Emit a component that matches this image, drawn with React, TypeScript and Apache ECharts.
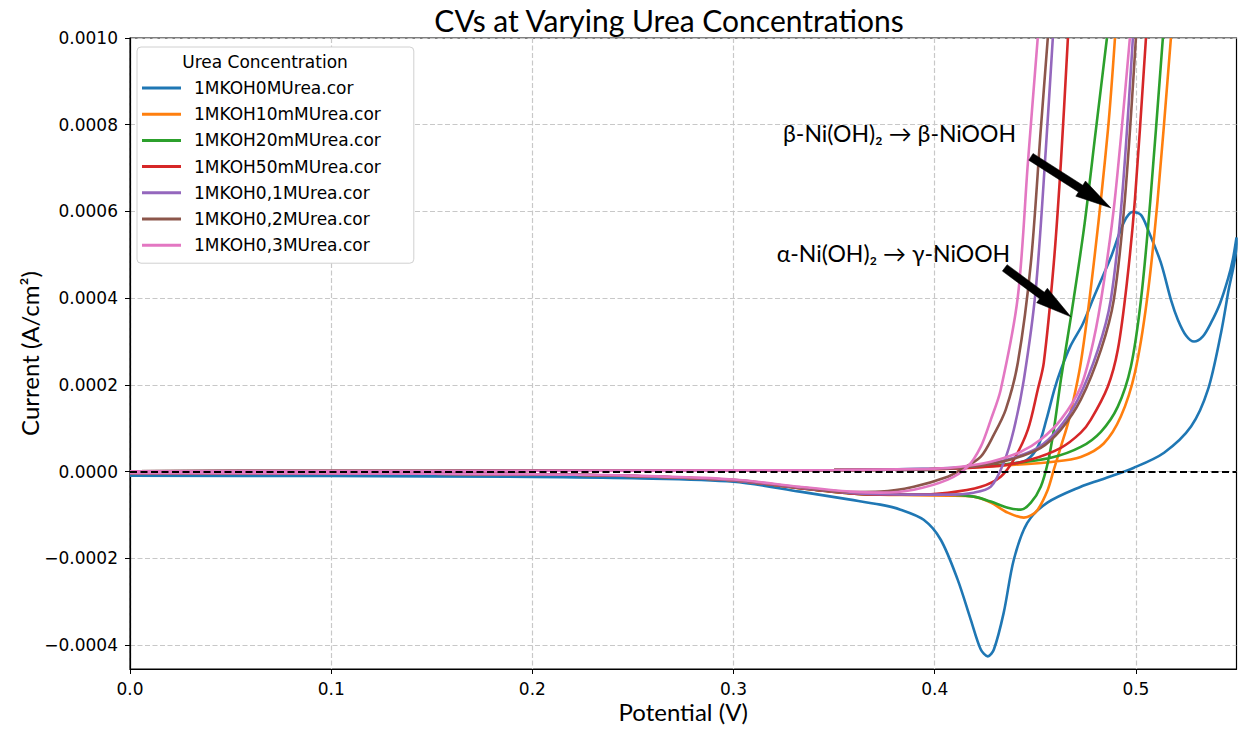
import React, { useEffect, useRef } from "react";
import * as echarts from "echarts";

type Pt = [number, number];

const seriesNames = [
  "1MKOH0MUrea.cor",
  "1MKOH10mMUrea.cor",
  "1MKOH20mMUrea.cor",
  "1MKOH50mMUrea.cor",
  "1MKOH0,1MUrea.cor",
  "1MKOH0,2MUrea.cor",
  "1MKOH0,3MUrea.cor",
];
const seriesColors = ["#1f77b4", "#ff7f0e", "#2ca02c", "#d62728", "#9467bd", "#8c564b", "#e377c2"];

const xTicks = [0, 0.1, 0.2, 0.3, 0.4, 0.5];
const yTicks = [-0.0004, -0.0002, 0, 0.0002, 0.0004, 0.0006, 0.0008, 0.001];

// ---- 1M KOH, 0 M urea (blue) ----
const blueForward: Pt[] = [
  [0, 0.000001], [0.1, 0.0000015], [0.2, 0.000002], [0.3, 0.000003], [0.35, 0.000004],
  [0.4, 0.000007], [0.425, 0.000012], [0.438, 0.000018], [0.446, 0.000028], [0.4515, 0.00006],
  [0.4555, 0.00012], [0.4595, 0.00019], [0.4627, 0.000235], [0.4675, 0.00029], [0.4735, 0.00034],
  [0.4791, 0.000403], [0.4876, 0.000495], [0.494, 0.000575], [0.4985, 0.000599], [0.5025, 0.000592],
  [0.506, 0.000558], [0.5124, 0.000482], [0.5175, 0.000395], [0.5209, 0.00035], [0.5249, 0.000314],
  [0.5289, 0.0003], [0.5333, 0.000312], [0.5373, 0.000343], [0.5418, 0.000388], [0.5458, 0.000445],
  [0.5482, 0.00049], [0.55, 0.00054],
];
const blueReverse: Pt[] = [
  [0.55, 0.000525], [0.5458, 0.000412], [0.5423, 0.00032], [0.5358, 0.000189], [0.5274, 0.000104],
  [0.514, 0.0000438], [0.499, 0.0000092], [0.4826, -0.0000184], [0.4726, -0.0000346], [0.456, -0.0000714],
  [0.446, -0.000118], [0.4393, -0.000203], [0.4343, -0.000325], [0.4294, -0.00041], [0.4264, -0.000426],
  [0.4229, -0.00041], [0.4179, -0.000341], [0.4114, -0.000249], [0.403, -0.000157], [0.3945, -0.000111],
  [0.383, -0.0000876], [0.373, -0.000076], [0.358, -0.0000645], [0.333, -0.000046], [0.3, -0.000023],
  [0.25, -0.000015], [0.2, -0.000012], [0.1, -0.00001], [0, -0.0000092],
];

// ---- 10 mM urea (orange) ----
const orangeForward: Pt[] = [
  [0, 0.000001], [0.1, 0.0000015], [0.2, 0.000002], [0.3, 0.000003], [0.35, 0.000004], [0.4, 0.000006],
  [0.4328, 0.000014], [0.459, 0.000023], [0.4726, 0.000034], [0.484, 0.000065], [0.4925, 0.000127],
  [0.4995, 0.000228], [0.5055, 0.000396], [0.5108, 0.000627], [0.5174, 0.001],
];
const orangeReverse: Pt[] = [
  [0.4896, 0.001], [0.4861, 0.000788], [0.4791, 0.000482], [0.4726, 0.000251], [0.4667, 0.00012],
  [0.4627, 0.0000576], [0.4592, 0.0000046], [0.4562, -0.0000415], [0.4512, -0.0000876], [0.4478, -0.000101],
  [0.4443, -0.000106], [0.4363, -0.0000945], [0.4279, -0.0000714], [0.4194, -0.0000576], [0.4065, -0.0000553],
  [0.3896, -0.000054], [0.3731, -0.000053], [0.358, -0.00005], [0.333, -0.000038], [0.3, -0.00002],
  [0.25, -0.00001], [0.2, -0.000006], [0.1, -0.000004], [0, -0.000003],
];

// ---- 20 mM urea (green) ----
const greenForward: Pt[] = [
  [0, 0.000001], [0.1, 0.0000015], [0.2, 0.000002], [0.3, 0.000003], [0.35, 0.000004], [0.4, 0.000006],
  [0.4328, 0.000016], [0.4577, 0.000032], [0.4726, 0.000057], [0.4826, 0.000092], [0.491, 0.00015],
  [0.4975, 0.000242], [0.5025, 0.000396], [0.5072, 0.000627], [0.5134, 0.001],
];
const greenReverse: Pt[] = [
  [0.4856, 0.001], [0.4801, 0.000788], [0.4741, 0.000558], [0.4677, 0.000357], [0.4627, 0.000212],
  [0.4592, 0.0000968], [0.4562, 0.0000207], [0.4527, -0.0000346], [0.4478, -0.0000714], [0.4428, -0.0000876],
  [0.4363, -0.000083], [0.4279, -0.000069], [0.4194, -0.0000576], [0.4065, -0.000053], [0.3896, -0.000053],
  [0.3731, -0.000053], [0.358, -0.00005], [0.333, -0.000038], [0.3, -0.00002], [0.25, -0.00001],
  [0.2, -0.000006], [0.1, -0.000004], [0, -0.000003],
];

// ---- 50 mM urea (red) ----
const redForward: Pt[] = [
  [0, 0.000001], [0.1, 0.0000015], [0.2, 0.000002], [0.3, 0.000003], [0.35, 0.000004], [0.4, 0.000006],
  [0.433, 0.000014], [0.4478, 0.000028], [0.4627, 0.000055], [0.4726, 0.00009], [0.4776, 0.00012],
  [0.486, 0.000196], [0.491, 0.000281], [0.4955, 0.000435], [0.4995, 0.000627], [0.505, 0.001],
];
const redReverse: Pt[] = [
  [0.4662, 0.001], [0.4627, 0.000712], [0.4592, 0.000482], [0.4542, 0.000251], [0.4512, 0.000189],
  [0.4463, 0.0000968], [0.4393, 0.0000276], [0.4328, -0.0000115], [0.4229, -0.0000346], [0.4065, -0.0000484],
  [0.3896, -0.000053], [0.3731, -0.000053], [0.358, -0.00005], [0.333, -0.000038], [0.3, -0.00002],
  [0.25, -0.00001], [0.2, -0.000006], [0.1, -0.000004], [0, -0.000003],
];

// ---- 0.1 M urea (purple) ----
const purpleForward: Pt[] = [
  [0, 0.000001], [0.1, 0.0000015], [0.2, 0.000002], [0.3, 0.000003], [0.35, 0.000004], [0.4, 0.000006],
  [0.4215, 0.000014], [0.4363, 0.000028], [0.4512, 0.000055], [0.4612, 0.000097], [0.4711, 0.000166],
  [0.4811, 0.000281], [0.4875, 0.000396], [0.493, 0.000627], [0.4985, 0.001],
];
const purpleReverse: Pt[] = [
  [0.4587, 0.001], [0.4552, 0.000742], [0.4502, 0.000419], [0.4443, 0.000212], [0.4393, 0.0000968],
  [0.4343, 0.0000207], [0.4279, -0.0000346], [0.4194, -0.0000484], [0.4065, -0.000053], [0.3896, -0.000053],
  [0.3731, -0.000052], [0.358, -0.000049], [0.333, -0.000037], [0.3, -0.00002], [0.25, -0.00001],
  [0.2, -0.000006], [0.1, -0.000004], [0, -0.000003],
];

// ---- 0.2 M urea (brown) ----
const brownForward: Pt[] = [
  [0, 0.000001], [0.1, 0.0000015], [0.2, 0.000002], [0.3, 0.000003], [0.35, 0.000004], [0.4, 0.000006],
  [0.423, 0.000014], [0.4378, 0.000028], [0.4527, 0.000055], [0.4627, 0.000097], [0.4726, 0.000166],
  [0.4826, 0.000281], [0.489, 0.000396], [0.4945, 0.000627], [0.5, 0.001],
];
const brownReverse: Pt[] = [
  [0.4562, 0.001], [0.4527, 0.000788], [0.4478, 0.000482], [0.4413, 0.000251], [0.4353, 0.000143],
  [0.4294, 0.0000853], [0.4229, 0.0000346], [0.413, 0.0000046], [0.4065, -0.0000115], [0.3896, -0.0000346],
  [0.3731, -0.000046], [0.358, -0.000047], [0.333, -0.000036], [0.3, -0.000019], [0.25, -0.00001],
  [0.2, -0.000006], [0.1, -0.000004], [0, -0.000003],
];

// ---- 0.3 M urea (pink) ----
const pinkForward: Pt[] = [
  [0, 0.000001], [0.1, 0.0000015], [0.2, 0.000002], [0.3, 0.000003], [0.35, 0.000004], [0.4, 0.000007],
  [0.413, 0.0000115], [0.4279, 0.000023], [0.4428, 0.000046], [0.4527, 0.000074], [0.4627, 0.00012],
  [0.4726, 0.000196], [0.479, 0.000304], [0.484, 0.000435], [0.4895, 0.000627], [0.497, 0.001],
];
const pinkReverse: Pt[] = [
  [0.4512, 0.001], [0.4463, 0.000712], [0.4413, 0.000403], [0.4328, 0.000189], [0.4279, 0.00012],
  [0.4229, 0.0000576], [0.4164, 0.0000115], [0.4065, -0.0000184], [0.3896, -0.0000415], [0.3731, -0.0000484],
  [0.358, -0.000046], [0.333, -0.000035], [0.3, -0.000018], [0.25, -0.000009], [0.2, -0.000006],
  [0.1, -0.000004], [0, -0.000003],
];

const annotationTexts = ["β-Ni(OH)₂ → β-NiOOH", "α-Ni(OH)₂ → γ-NiOOH"];
const annotationTextAt: Pt[] = [[0.3825, 0.000781], [0.3795, 0.000505]];
const arrowFrom: Pt[] = [[0.4478, 0.000726], [0.4348, 0.00047]];
const arrowTo: Pt[] = [[0.4876, 0.000608], [0.4677, 0.000357]];

const curves: { fwd: Pt[]; rev: Pt[]; closed: boolean }[] = [
  { fwd: blueForward, rev: blueReverse, closed: true },
  { fwd: orangeForward, rev: orangeReverse, closed: false },
  { fwd: greenForward, rev: greenReverse, closed: false },
  { fwd: redForward, rev: redReverse, closed: false },
  { fwd: purpleForward, rev: purpleReverse, closed: false },
  { fwd: brownForward, rev: brownReverse, closed: false },
  { fwd: pinkForward, rev: pinkReverse, closed: false },
];

const TICK_FONT = "'DejaVu Sans', sans-serif";
const LABEL_FONT = "Lato, 'DejaVu Sans', sans-serif";

function arrowPoly(p0: number[], p1: number[], shaftW: number, headW: number, headL: number) {
  const dx = p1[0] - p0[0];
  const dy = p1[1] - p0[1];
  const L = Math.hypot(dx, dy);
  const ux = dx / L, uy = dy / L;
  const nx = -uy, ny = ux;
  const bx = p1[0] - ux * headL, by = p1[1] - uy * headL;
  return [
    [p0[0] + (nx * shaftW) / 2, p0[1] + (ny * shaftW) / 2],
    [bx + (nx * shaftW) / 2, by + (ny * shaftW) / 2],
    [bx + (nx * headW) / 2, by + (ny * headW) / 2],
    [p1[0], p1[1]],
    [bx - (nx * headW) / 2, by - (ny * headW) / 2],
    [bx - (nx * shaftW) / 2, by - (ny * shaftW) / 2],
    [p0[0] - (nx * shaftW) / 2, p0[1] - (ny * shaftW) / 2],
  ];
}

export default function App() {
  const ref = useRef<HTMLDivElement>(null);

  useEffect(() => {
    if (!ref.current) return;
    const chart = echarts.init(ref.current, undefined, { renderer: "svg" });

    const series: any[] = curves.map((c, i) => {
      const data: any[] = c.closed ? [...c.fwd, ...c.rev] : [...c.fwd, ["-", "-"], ...c.rev];
      const s: any = {
        name: seriesNames[i],
        type: "line",
        data,
        symbol: "none",
        showSymbol: false,
        smooth: 0.3,
        connectNulls: false,
        clip: true,
        color: seriesColors[i],
        lineStyle: { width: 2.6, color: seriesColors[i] },
        z: 3 + i,
        silent: true,
      };
      if (i === curves.length - 1) {
        s.markLine = {
          silent: true,
          symbol: "none",
          label: { show: false },
          lineStyle: { type: [7, 3.5], color: "#000", width: 1.8 },
          data: [{ yAxis: 0 }],
          z: 20,
        };
      }
      return s;
    });

    chart.setOption({
      animation: false,
      backgroundColor: "#fff",
      title: {
        text: "CVs at Varying Urea Concentrations",
        left: 664,
        textAlign: "center",
        top: 0,
        textStyle: { fontFamily: LABEL_FONT, fontSize: 30, fontWeight: "normal", color: "#000" },
      },
      grid: {
        left: 130,
        top: 38,
        right: 1.5,
        bottom: 60,
        show: true,
        borderColor: "#000",
        borderWidth: 1.2,
        backgroundColor: "transparent",
      },
      legend: {
        orient: "vertical",
        left: 137,
        top: 47,
        data: seriesNames,
        icon: "rect",
        itemWidth: 39,
        itemHeight: 3,
        itemGap: 6.2,
        padding: [31, 33, 8, 5],
        backgroundColor: "#fff",
        borderColor: "#d0d0d0",
        borderWidth: 1,
        borderRadius: 4,
        textStyle: { fontFamily: TICK_FONT, fontSize: 17, color: "#000", lineHeight: 20, padding: [0, 0, 0, 8] },
        selectedMode: false,
        z: 30,
      },
      xAxis: {
        type: "value",
        min: 0,
        max: 0.55,
        name: "Potential (V)",
        nameLocation: "middle",
        nameGap: 30,
        nameMoveOverlap: false,
        nameTextStyle: { fontFamily: LABEL_FONT, fontSize: 24, color: "#000" },
        axisLine: { show: true, onZero: false, lineStyle: { color: "#000", width: 1.2 } },
        axisTick: { show: true, customValues: xTicks, length: 5, lineStyle: { color: "#000", width: 1 } },
        axisLabel: {
          customValues: xTicks,
          formatter: (v: number) => v.toFixed(1),
          fontFamily: TICK_FONT,
          fontSize: 17,
          color: "#000",
          margin: 11,
        },
        splitLine: { show: true, lineStyle: { type: [5, 2.5], color: "#c8c8c8", width: 1.2 } },
      },
      yAxis: {
        type: "value",
        min: -0.000455,
        max: 0.001,
        name: "Current (A/cm²)",
        nameLocation: "middle",
        nameGap: 89,
        nameMoveOverlap: false,
        nameTextStyle: { fontFamily: LABEL_FONT, fontSize: 24, color: "#000" },
        axisLine: { show: true, onZero: false, lineStyle: { color: "#000", width: 1.2 } },
        axisTick: { show: true, customValues: yTicks, length: 5, lineStyle: { color: "#000", width: 1 } },
        axisLabel: {
          customValues: yTicks,
          formatter: (v: number) => v.toFixed(4).replace("-", "\u2212"),
          fontFamily: TICK_FONT,
          fontSize: 17,
          color: "#000",
          margin: 12,
        },
        splitLine: { show: true, lineStyle: { type: [5, 2.5], color: "#c8c8c8", width: 1.2 } },
      },
      series,
    });

    const toPx = (p: Pt) => chart.convertToPixel({ gridIndex: 0 }, p) as number[];
    const graphic: any[] = [
      {
        type: "text",
        x: 265,
        y: 62,
        z: 40,
        style: {
          text: "Urea Concentration",
          font: `17px ${TICK_FONT}`,
          fill: "#000",
          textAlign: "center",
          textVerticalAlign: "middle",
        },
      },
    ];
    annotationTexts.forEach((t, i) => {
      const tp = toPx(annotationTextAt[i]);
      graphic.push({
        type: "text",
        x: tp[0],
        y: tp[1],
        z: 40,
        style: {
          text: t,
          font: `23px ${LABEL_FONT}`,
          fill: "#000",
          textAlign: "center",
          textVerticalAlign: "middle",
        },
      });
      const a = toPx(arrowFrom[i]);
      const b = toPx(arrowTo[i]);
      graphic.push({
        type: "polygon",
        z: 40,
        shape: { points: arrowPoly(a, b, 8, 18, 36) },
        style: { fill: "#000", stroke: "#000", lineWidth: 0.5 },
      });
    });
    chart.setOption({ graphic });

    return () => chart.dispose();
  }, []);

  return (
    <div
      ref={ref}
      style={{ position: "fixed", left: 0, top: 0, width: 1238, height: 729, background: "#fff" }}
    />
  );
}
